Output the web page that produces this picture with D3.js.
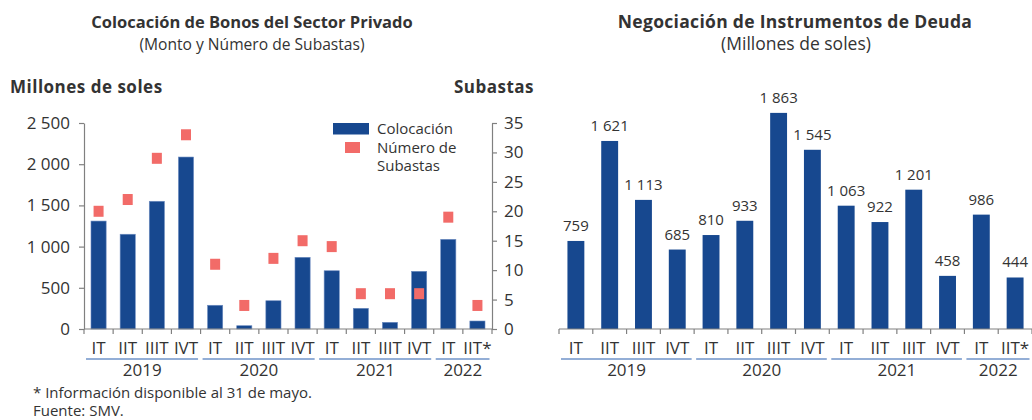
<!DOCTYPE html>
<html>
<head>
<meta charset="utf-8">
<script src="https://cdn.jsdelivr.net/npm/d3@7"></script>
<style>
  html, body { margin: 0; padding: 0; background: #fff; }
  svg { display: block; font-family: "Open Sans", "Noto Sans", sans-serif; }
  text { fill: #333; }
</style>
</head>
<body>
<svg id="chart" width="1032" height="420"></svg>
<script>
// Quarter labels shared by both panels
const quarters = ["IT", "IIT", "IIIT", "IVT", "IT", "IIT", "IIIT", "IVT", "IT", "IIT", "IIIT", "IVT", "IT", "IIT*"];
const years = ["2019", "2020", "2021", "2022"];
const quartersPerYear = [4, 4, 4, 2];

// Left panel: placement amount (millions of soles) and number of auctions
const colocacion = [1310, 1150, 1550, 2087, 288, 40, 343, 870, 707, 251, 81, 700, 1088, 97];
const subastas = [20, 22, 29, 33, 11, 4, 12, 15, 14, 6, 6, 6, 19, 4];
const leftTicks = [0, 500, 1000, 1500, 2000, 2500];
const rightTicks = [0, 5, 10, 15, 20, 25, 30, 35];

// Right panel: trading of debt instruments (millions of soles)
const negociacion = [759, 1621, 1113, 685, 810, 933, 1863, 1545, 1063, 922, 1201, 458, 986, 444];

const BLUE = "#17488f";
const RED = "#f26b68";
const AXIS = "#808080";
const YEARLINE = "#6f93c9";

const locale = d3.formatLocale({ decimal: ",", thousands: "\u2009", grouping: [3], currency: ["", ""] });
const fmt = v => locale.format(",")(v).replace(/\u2009/g, " ");

const svg = d3.select("#chart");
const idx = d3.range(quarters.length);

// Category axis with quarter labels, boundary ticks and year brackets
function categoryAxis(g, x, y0) {
  const step = x.step();
  const off = (step - x.bandwidth()) / 2;
  const [r0, r1] = x.range();
  g.append("line").attr("x1", r0).attr("x2", r1).attr("y1", y0).attr("y2", y0)
    .attr("stroke", AXIS).attr("stroke-width", 1.2);
  const bounds = idx.map(i => x(i) - off).concat([x(idx.length - 1) - off + step]);
  g.selectAll(".ctick").data(bounds).join("line")
    .attr("x1", d => d).attr("x2", d => d).attr("y1", y0).attr("y2", y0 + 5)
    .attr("stroke", AXIS).attr("stroke-width", 1.2);
  g.selectAll(".qlab").data(idx).join("text")
    .attr("x", i => x(i) + x.bandwidth() / 2).attr("y", y0 + 25)
    .attr("text-anchor", "middle").attr("font-size", 17)
    .text(i => quarters[i]);
  let start = 0;
  years.forEach((yr, k) => {
    const n = quartersPerYear[k];
    const a = x(start) - off, b = x(start + n - 1) - off + step;
    g.append("line").attr("x1", a + 2).attr("x2", b - 2.5).attr("y1", y0 + 30).attr("y2", y0 + 30)
      .attr("stroke", YEARLINE).attr("stroke-width", 1.3);
    g.append("text").attr("x", (a + b) / 2).attr("y", y0 + 47)
      .attr("text-anchor", "middle").attr("font-size", 17).text(yr);
    start += n;
  });
}

// ---------- Left panel ----------
const L = svg.append("g");
const baseY = 329;
const xL = d3.scaleBand().domain(idx).range([84, 492]).paddingInner(0.48).paddingOuter(0.24);
const yL = d3.scaleLinear().domain([0, 2500]).range([baseY, 123]);
const yR = d3.scaleLinear().domain([0, 35]).range([baseY, 123]);

L.append("text").attr("x", 252).attr("y", 28).attr("text-anchor", "middle")
  .attr("font-size", 16.5).attr("font-weight", "bold").text("Colocación de Bonos del Sector Privado");
L.append("text").attr("x", 252).attr("y", 50).attr("text-anchor", "middle")
  .attr("font-size", 15.6).text("(Monto y Número de Subastas)");
L.append("text").attr("x", 10).attr("y", 93).attr("font-size", 17).attr("letter-spacing", 0.5)
  .attr("font-weight", "bold").text("Millones de soles");
L.append("text").attr("x", 534).attr("y", 93).attr("text-anchor", "end").attr("letter-spacing", 0.5)
  .attr("font-size", 17).attr("font-weight", "bold").text("Subastas");

L.selectAll(".bar").data(idx).join("rect")
  .attr("x", i => xL(i)).attr("width", xL.bandwidth())
  .attr("y", i => yL(colocacion[i])).attr("height", i => baseY - yL(colocacion[i]))
  .attr("fill", BLUE).attr("stroke", "#6d8cc0").attr("stroke-width", 0.6);

L.selectAll(".mk").data(idx).join("rect")
  .attr("x", i => xL(i) + xL.bandwidth() / 2 - 5).attr("width", 10)
  .attr("y", i => yR(subastas[i]) - 5.5).attr("height", 11)
  .attr("fill", RED);

const axL = L.append("g").attr("transform", "translate(84,0)")
  .call(d3.axisLeft(yL).tickValues(leftTicks).tickFormat(fmt).tickSize(5).tickSizeOuter(0).tickPadding(9));
const axR = L.append("g").attr("transform", "translate(492,0)")
  .call(d3.axisRight(yR).tickValues(rightTicks).tickSize(5).tickSizeOuter(0).tickPadding(7));
[axL, axR].forEach(a => {
  a.select(".domain").attr("stroke", AXIS).attr("stroke-width", 1.2);
  a.selectAll(".tick line").attr("stroke", AXIS).attr("stroke-width", 1.2);
  a.selectAll(".tick text").attr("font-size", 17).attr("font-family", "Open Sans, sans-serif").attr("fill", "#333");
});

categoryAxis(L.append("g"), xL, baseY);

// Legend
const lg = L.append("g");
lg.append("rect").attr("x", 333).attr("y", 123).attr("width", 36).attr("height", 11.5).attr("fill", BLUE);
lg.append("rect").attr("x", 345).attr("y", 142).attr("width", 15).attr("height", 11).attr("fill", RED);
lg.append("text").attr("x", 377).attr("y", 134).attr("font-size", 15).text("Colocación");
lg.append("text").attr("x", 377).attr("y", 153).attr("font-size", 15).text("Número de");
lg.append("text").attr("x", 377).attr("y", 171).attr("font-size", 15).text("Subastas");

// Notes
L.append("text").attr("x", 33).attr("y", 398).attr("font-size", 15).text("* Información disponible al 31 de mayo.");
L.append("text").attr("x", 33).attr("y", 416).attr("font-size", 15).text("Fuente: SMV.");

// ---------- Right panel ----------
const R = svg.append("g");
const xN = d3.scaleBand().domain(idx).range([559, 1032]).paddingInner(0.5).paddingOuter(0.25);
const yN = d3.scaleLinear().domain([0, 2000]).range([baseY, 97]);

R.append("text").attr("x", 795).attr("y", 28).attr("text-anchor", "middle")
  .attr("font-size", 17.5).attr("letter-spacing", 0.3).attr("font-weight", "bold")
  .text("Negociación de Instrumentos de Deuda");
R.append("text").attr("x", 796).attr("y", 50).attr("text-anchor", "middle")
  .attr("font-size", 17.5).text("(Millones de soles)");

R.selectAll(".bar").data(idx).join("rect")
  .attr("x", i => xN(i)).attr("width", xN.bandwidth())
  .attr("y", i => yN(negociacion[i])).attr("height", i => baseY - yN(negociacion[i]))
  .attr("fill", BLUE);

R.selectAll(".val").data(idx).join("text")
  .attr("x", i => xN(i) + xN.bandwidth() / 2).attr("y", i => yN(negociacion[i]) - 10)
  .attr("text-anchor", "middle").attr("font-size", 15)
  .text(i => fmt(negociacion[i]));

categoryAxis(R.append("g"), xN, baseY);
</script>
</body>
</html>
